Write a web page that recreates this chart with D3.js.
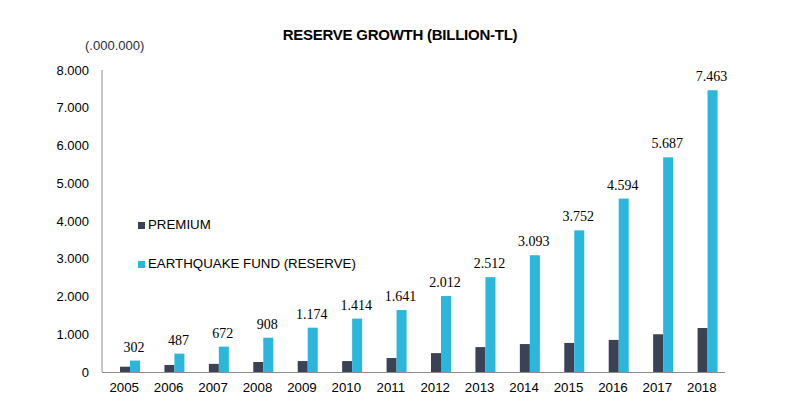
<!DOCTYPE html>
<html><head><meta charset="utf-8">
<script src="https://cdn.jsdelivr.net/npm/d3@7"></script>
<style>body{margin:0;background:#fff}svg{display:block}</style>
</head><body>
<svg id="c" width="785" height="414"></svg>
<script>
const years = ["2005","2006","2007","2008","2009","2010","2011","2012","2013","2014","2015","2016","2017","2018"];
const premium = [140,185,215,265,290,290,370,500,660,740,770,850,1000,1165];
const reserve = [302,487,672,908,1174,1414,1641,2012,2512,3093,3752,4594,5687,7463];
const yTicks = [0,1000,2000,3000,4000,5000,6000,7000,8000];
const seriesNames = ["PREMIUM","EARTHQUAKE FUND (RESERVE)"];
const colors = ["#3a4254","#2bb6dc"];

const fmt = v => v === 0 ? "0" : d3.format(",")(v).replace(/,/g, ".");
const SANS = "Liberation Sans, Arial, sans-serif";

const svg = d3.select("#c");
const x0 = d3.scaleBand().domain(years).range([102, 724]).padding(0);
const x1 = d3.scaleBand().domain(["p","r"]).range([18, 38]).padding(0);
const y = d3.scaleLinear().domain([0, 8000]).range([372, 70]);

// title
svg.append("text").attr("x", 400).attr("y", 40).attr("text-anchor","middle")
  .attr("font-family", SANS).attr("font-weight","bold")
  .attr("font-size", 15).attr("letter-spacing", -0.25).attr("fill","#000")
  .text("RESERVE GROWTH (BILLION-TL)");
svg.append("text").attr("x", 85).attr("y", 50)
  .attr("font-family", SANS).attr("font-size", 13)
  .attr("fill","#1f2a44").text("(.000.000)");

// y axis labels
svg.append("g").selectAll("text").data(yTicks).join("text")
  .attr("x", 89).attr("y", d => y(d) + 4.5).attr("text-anchor","end")
  .attr("font-family", SANS).attr("font-size", 13)
  .attr("fill","#000").text(fmt);

// bars
const g = svg.append("g");
g.selectAll("rect.p").data(years).join("rect").attr("class","p")
  .attr("x", d => x0(d) + x1("p")).attr("width", x1.bandwidth())
  .attr("y", (d,i) => y(premium[i])).attr("height", (d,i) => y(0) - y(premium[i]))
  .attr("fill", colors[0]);
g.selectAll("rect.r").data(years).join("rect").attr("class","r")
  .attr("x", d => x0(d) + x1("r")).attr("width", x1.bandwidth())
  .attr("y", (d,i) => y(reserve[i])).attr("height", (d,i) => y(0) - y(reserve[i]))
  .attr("fill", colors[1]);

// data labels
g.selectAll("text.lbl").data(years).join("text").attr("class","lbl")
  .attr("x", d => x0(d) + x1("r") + x1.bandwidth()/2 - 1)
  .attr("y", (d,i) => y(reserve[i]) - 9).attr("text-anchor","middle")
  .attr("font-family","Liberation Serif, Times New Roman, serif").attr("font-size", 14)
  .attr("fill","#000").text((d,i) => fmt(reserve[i]));

// axes lines
svg.append("line").attr("x1",102).attr("x2",102).attr("y1",y(8000)).attr("y2",y(0))
  .attr("stroke","#8c8c8c").attr("stroke-width",1);
svg.append("line").attr("x1",102).attr("x2",725).attr("y1",y(0)+0.5).attr("y2",y(0)+0.5)
  .attr("stroke","#8c8c8c").attr("stroke-width",1);

// x labels
svg.append("g").selectAll("text").data(years).join("text")
  .attr("x", d => x0(d) + x0.bandwidth()/2).attr("y", 392).attr("text-anchor","middle")
  .attr("font-family", SANS).attr("font-size", 13.3)
  .attr("fill","#000").text(d => d);

// legend
const lg = svg.append("g");
seriesNames.forEach((n, i) => {
  const ly = 229 + i * 39;
  lg.append("rect").attr("x", 138).attr("y", ly - 7).attr("width", 7).attr("height", 7).attr("fill", colors[i]);
  lg.append("text").attr("x", 148).attr("y", ly)
    .attr("font-family", SANS).attr("font-size", 13.3)
    .attr("fill","#000").text(n);
});
</script>
</body></html>
